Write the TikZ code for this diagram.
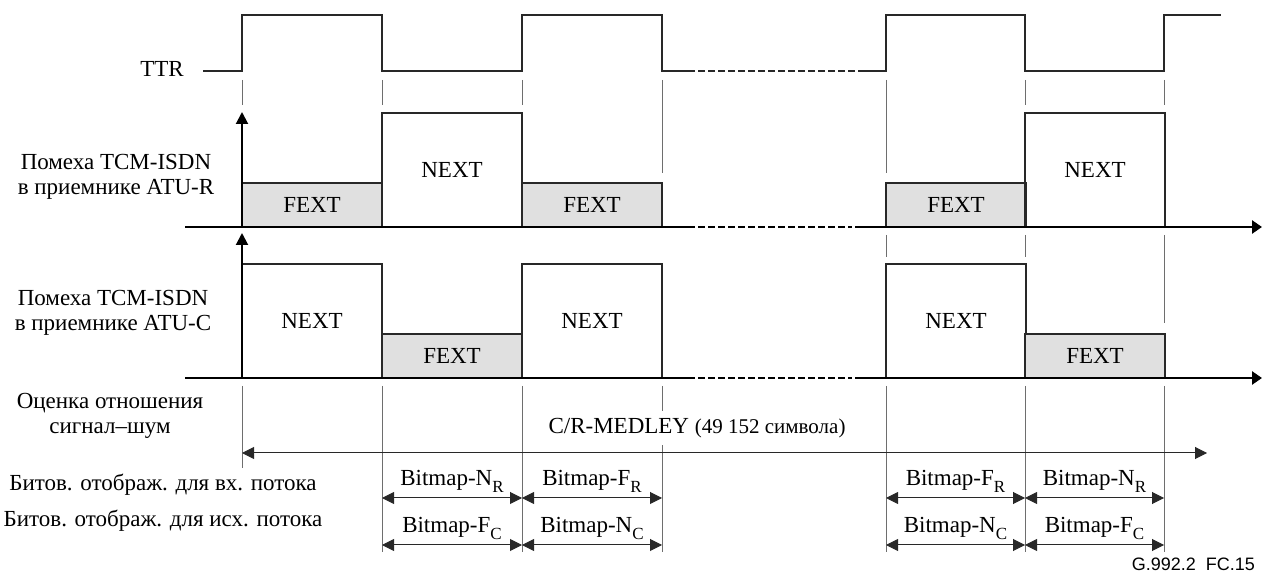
\documentclass[tikz,border=0pt]{standalone}
\usepackage{fontspec}
\setmainfont{Liberation Serif}
\setsansfont{Liberation Sans}
\usetikzlibrary{arrows.meta}
\definecolor{ttrInk}{RGB}{40,40,40}
\definecolor{ttrGrid}{RGB}{110,110,110}
\definecolor{ttrFext}{RGB}{224,224,224}
\newcommand{\bmsub}[1]{\raisebox{-0.32em}{\fontsize{8.5}{9}\selectfont #1}}

\begin{document}
\begin{tikzpicture}[x=0.5pt, y=-0.5pt,
    every node/.style={font=\fontsize{11.5}{12.5}\selectfont},
    signal/.style={draw=ttrInk, line width=0.7pt},
    axis/.style={draw=black, line width=1.4pt},
    gap/.style={dash pattern=on 3.3pt off 1.7pt},
    fextbox/.style={draw=ttrInk, line width=0.6pt, fill=ttrFext, minimum width=70pt, minimum height=22pt,
      inner sep=0pt, outer sep=0pt, anchor=south west},
    nextbox/.style={draw=ttrInk, line width=0.6pt, minimum width=70pt, minimum height=57pt,
      inner sep=0pt, outer sep=0pt, anchor=south west},
    guide/.style={draw=ttrGrid, line width=0.5pt},
    yaxis/.style={-{Triangle[length=6pt, width=6pt]}, draw=black, line width=1pt},
    span/.style={{Triangle[length=6pt, width=6pt]}-{Triangle[length=6pt, width=6pt]}, draw=ttrInk, line width=0.5pt},
    rowlabel/.style={align=center}
  ]
  \useasboundingbox (0,0) rectangle (1263,576);

  \coordinate (t1) at (242,0);
  \coordinate (t2) at (382,0);
  \coordinate (t3) at (522,0);
  \coordinate (t4) at (662,0);
  \coordinate (t5) at (886,0);
  \coordinate (t6) at (1025,0);
  \coordinate (t7) at (1164,0);
  \coordinate (axR) at (0,227);
  \coordinate (axC) at (0,378);
  \coordinate (md) at (0,453);
  \coordinate (mdEnd) at (1207,453);
  \coordinate (bmD) at (0,498);
  \coordinate (bmU) at (0,545);

  \node (ttr) at (162,69) {TTR};
  \node[rowlabel] (lblR) at (116,177) {Помеха TCM-ISDN\\в приемнике ATU-R};
  \node[rowlabel] (lblC) at (113,313) {Помеха TCM-ISDN\\в приемнике ATU-C};
  \node[rowlabel] (lblS) at (110,416) {Оценка отношения\\сигнал–шум};
  \node (lblD) at (163,485) {Битов. отображ. для вх. потока};
  \node (lblU) at (163,521) {Битов. отображ. для исх. потока};

  \draw[signal] (203,71) -- (242,71) -- (242,15) -- (382,15) -- (382,71) -- (522,71) -- (522,15)
    -- (662,15) -- (662,71) -- (695,71);
  \draw[signal, gap] (698,71) -- (855,71);
  \draw[signal] (858,71) -- (886,71) -- (886,15) -- (1025,15) -- (1025,71) -- (1164,71) -- (1164,15) -- (1221,15);

  \foreach \t in {t1,t2,t3,t6,t7}
    \draw[guide] (\t) ++(0,80) -- ++(0,25);
  \foreach \t in {t4,t5}
    \draw[guide] (\t) ++(0,80) -- ++(0,93);
  \foreach \t in {t5,t6}
    \draw[guide] (\t) ++(0,235) -- ++(0,22);
  \draw[guide] (t7) ++(0,235) -- ++(0,88);
  \draw[guide] (t1) ++(0,386) -- ++(0,82);
  \foreach \t in {t2,t3,t4,t5,t6,t7}
    \draw[guide] (\t) ++(0,386) -- ++(0,166);

  \node[fextbox] (rF1) at (t1|-axR) {FEXT};
  \node[nextbox] (rN1) at (t2|-axR) {NEXT};
  \node[fextbox] (rF2) at (t3|-axR) {FEXT};
  \node[fextbox] (rF3) at (t5|-axR) {FEXT};
  \node[nextbox] (rN2) at (t6|-axR) {NEXT};

  \node[nextbox] (cN1) at (t1|-axC) {NEXT};
  \node[fextbox] (cF1) at (t2|-axC) {FEXT};
  \node[nextbox] (cN2) at (t3|-axC) {NEXT};
  \node[nextbox] (cN3) at (t5|-axC) {NEXT};
  \node[fextbox] (cF2) at (t6|-axC) {FEXT};

  \draw[axis] (185,227) -- (695,227);
  \draw[axis, gap] (698,227) -- (852,227);
  \draw[axis, -{Triangle[length=5pt, width=6.5pt]}] (855,227) -- (1262,227);
  \draw[axis] (185,378) -- (695,378);
  \draw[axis, gap] (698,378) -- (852,378);
  \draw[axis, -{Triangle[length=5pt, width=6.5pt]}] (855,378) -- (1262,378);

  \draw[yaxis] (t1|-axR) -- ++(0,-115);
  \draw[yaxis] (t1|-axC) -- ++(0,-145);

  \node[fill=white] (medley) at (697,428) {C/R-MEDLEY {\fontsize{10.5}{12}\selectfont(49 152 символа)}};
  \draw[span] (t1|-md) -- (mdEnd);

  \draw[span] (t2|-bmD) -- node[above, yshift=-1pt] {Bitmap-N\bmsub{R}} (t3|-bmD);
  \draw[span] (t3|-bmD) -- node[above, yshift=-1pt] {Bitmap-F\bmsub{R}} (t4|-bmD);
  \draw[span] (t5|-bmD) -- node[above, yshift=-1pt] {Bitmap-F\bmsub{R}} (t6|-bmD);
  \draw[span] (t6|-bmD) -- node[above, yshift=-1pt] {Bitmap-N\bmsub{R}} (t7|-bmD);
  \draw[span] (t2|-bmU) -- node[above, yshift=-1pt] {Bitmap-F\bmsub{C}} (t3|-bmU);
  \draw[span] (t3|-bmU) -- node[above, yshift=-1pt] {Bitmap-N\bmsub{C}} (t4|-bmU);
  \draw[span] (t5|-bmU) -- node[above, yshift=-1pt] {Bitmap-N\bmsub{C}} (t6|-bmU);
  \draw[span] (t6|-bmU) -- node[above, yshift=-1pt] {Bitmap-F\bmsub{C}} (t7|-bmU);

  \node[font=\sffamily\fontsize{9}{10}\selectfont, anchor=east] (figid) at (1262,564) {G.992.2\ \ FC.15};
\end{tikzpicture}
\end{document}
